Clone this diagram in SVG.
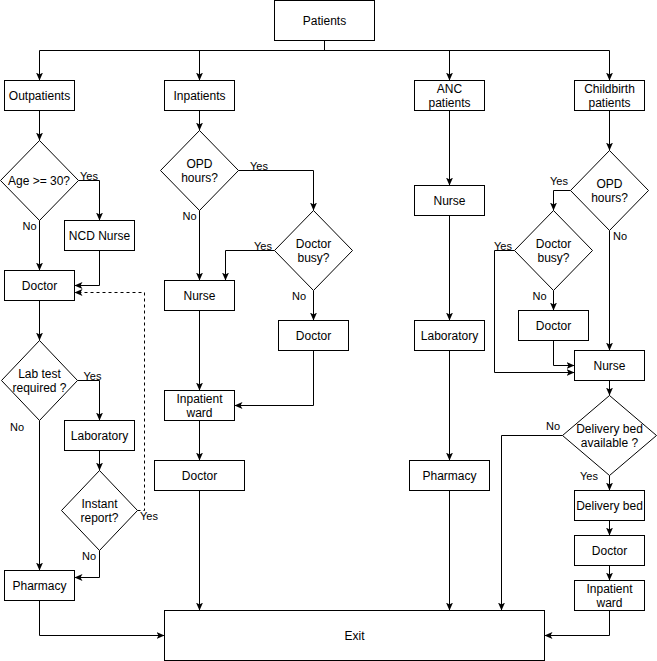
<svg xmlns="http://www.w3.org/2000/svg" width="657" height="661" viewBox="0 0 657 661">
<style>
.n{fill:#fff;stroke:#000;stroke-width:1}
.t{font-family:"Liberation Sans",Arial,sans-serif;font-size:12px;fill:#000;text-anchor:middle}
.l{font-family:"Liberation Sans",Arial,sans-serif;font-size:11px;fill:#000;text-anchor:middle}
.c{fill:none;stroke:#000;stroke-width:1;marker-end:url(#a)}
.d{stroke-dasharray:3 3}
</style>
<defs>
<marker id="a" viewBox="0 0 8 7" refX="8" refY="3.5" markerWidth="8" markerHeight="7" markerUnits="userSpaceOnUse" orient="auto">
<path d="M0,0 L8,3.5 L0,7 L2,3.5 Z" fill="#000"/>
</marker>
</defs>
<rect width="657" height="661" fill="#fff"/>
<g id="connectors">
<path class="c" d="M324.5,40.5 V50.5 H39.5 V80.5"/>
<path class="c" d="M324.5,40.5 V50.5 H199.5 V80.5"/>
<path class="c" d="M324.5,40.5 V50.5 H449.5 V80.5"/>
<path class="c" d="M324.5,40.5 V50.5 H609.5 V80.5"/>
<path class="c" d="M39.5,110.5 V140.5"/>
<path class="c" d="M78.5,180.5 H99.5 V220.5"/>
<path class="c" d="M39.5,220.5 V270.5"/>
<path class="c" d="M99.5,250.5 V285.5 H74.5"/>
<path class="c" d="M39.5,300.5 V340.5"/>
<path class="c" d="M77.5,380.5 H99.5 V420.5"/>
<path class="c" d="M39.5,420.5 V570.5"/>
<path class="c" d="M99.5,450.5 V470.5"/>
<path class="c d" d="M137.5,510.5 H144.5 V292.5 H74.5"/>
<path class="c" d="M99.5,550.5 V577.5 H74.5"/>
<path class="c" d="M39.5,600.5 V635.5 H164.5"/>
<path class="c" d="M199.5,110.5 V130.5"/>
<path class="c" d="M238.5,170.5 H313.5 V210.5"/>
<path class="c" d="M199.5,210.5 V280.5"/>
<path class="c" d="M274.5,250.5 H225.5 V280.5"/>
<path class="c" d="M313.5,290.5 V320.5"/>
<path class="c" d="M313.5,350.5 V405.5 H234.5"/>
<path class="c" d="M199.5,310.5 V390.5"/>
<path class="c" d="M199.5,420.5 V460.5"/>
<path class="c" d="M199.5,490.5 V610.5"/>
<path class="c" d="M449.5,110.5 V185.5"/>
<path class="c" d="M449.5,215.5 V320.5"/>
<path class="c" d="M449.5,350.5 V460.5"/>
<path class="c" d="M449.5,490.5 V610.5"/>
<path class="c" d="M609.5,110.5 V150.5"/>
<path class="c" d="M570.5,190.5 H553.5 V210.5"/>
<path class="c" d="M514.5,250.5 H494.5 V372.5 H574.5"/>
<path class="c" d="M553.5,290.5 V310.5"/>
<path class="c" d="M553.5,340.5 V365.5 H574.5"/>
<path class="c" d="M609.5,230.5 V350.5"/>
<path class="c" d="M609.5,380.5 V395.5"/>
<path class="c" d="M562.5,435.5 H501.5 V610.5"/>
<path class="c" d="M609.5,475.5 V490.5"/>
<path class="c" d="M609.5,520.5 V535.5"/>
<path class="c" d="M609.5,565.5 V580.5"/>
<path class="c" d="M609.5,610.5 V635.5 H544.5"/>
</g>
<g id="edge-labels">
<text class="l" x="89" y="180">Yes</text>
<text class="l" x="29.5" y="229.5">No</text>
<text class="l" x="92.5" y="380">Yes</text>
<text class="l" x="17" y="431">No</text>
<text class="l" x="149" y="520">Yes</text>
<text class="l" x="89" y="560">No</text>
<text class="l" x="259" y="170">Yes</text>
<text class="l" x="189.5" y="219.5">No</text>
<text class="l" x="263" y="250">Yes</text>
<text class="l" x="299" y="300">No</text>
<text class="l" x="559" y="185">Yes</text>
<text class="l" x="503" y="250">Yes</text>
<text class="l" x="539.5" y="300">No</text>
<text class="l" x="620" y="240">No</text>
<text class="l" x="553" y="430">No</text>
<text class="l" x="589" y="480">Yes</text>
</g>
<g id="patients"><rect class="n" x="274.5" y="0.5" width="100" height="40"/><text class="t" x="324.5" y="24.5">Patients</text></g>
<g id="outpatients"><rect class="n" x="4.5" y="80.5" width="70" height="30"/><text class="t" x="39.5" y="99.5">Outpatients</text></g>
<g id="inpatients"><rect class="n" x="164.5" y="80.5" width="70" height="30"/><text class="t" x="199.5" y="99.5">Inpatients</text></g>
<g id="anc"><rect class="n" x="414.5" y="80.5" width="70" height="30"/><text class="t" x="449.5" y="92.5">ANC</text><text class="t" x="449.5" y="106.5">patients</text></g>
<g id="childbirth"><rect class="n" x="574.5" y="80.5" width="70" height="30"/><text class="t" x="609.5" y="92.5">Childbirth</text><text class="t" x="609.5" y="106.5">patients</text></g>
<g id="age"><polygon class="n" points="39.5,140.5 78.5,180.5 39.5,220.5 0.5,180.5"/><text class="t" x="39" y="184.5">Age &gt;= 30?</text></g>
<g id="ncd-nurse"><rect class="n" x="64.5" y="220.5" width="70" height="30"/><text class="t" x="99.5" y="239.5">NCD Nurse</text></g>
<g id="doctor-out"><rect class="n" x="4.5" y="270.5" width="70" height="30"/><text class="t" x="39.5" y="289.5">Doctor</text></g>
<g id="lab-test"><polygon class="n" points="39.5,340.5 77.5,380.5 39.5,420.5 1.5,380.5"/><text class="t" x="39.5" y="377.5">Lab test</text><text class="t" x="39.5" y="391.5">required ?</text></g>
<g id="laboratory-out"><rect class="n" x="64.5" y="420.5" width="70" height="30"/><text class="t" x="99.5" y="439.5">Laboratory</text></g>
<g id="instant"><polygon class="n" points="99.5,470.5 137.5,510.5 99.5,550.5 61.5,510.5"/><text class="t" x="99.5" y="507.5">Instant</text><text class="t" x="99.5" y="521.5">report?</text></g>
<g id="pharmacy-out"><rect class="n" x="4.5" y="570.5" width="70" height="30"/><text class="t" x="39.5" y="589.5">Pharmacy</text></g>
<g id="opd-in"><polygon class="n" points="199.5,130.5 238.5,170.5 199.5,210.5 160.5,170.5"/><text class="t" x="199.5" y="167.5">OPD</text><text class="t" x="199.5" y="181.5">hours?</text></g>
<g id="busy-in"><polygon class="n" points="313.5,210.5 352.5,250.5 313.5,290.5 274.5,250.5"/><text class="t" x="313.5" y="247.5">Doctor</text><text class="t" x="313.5" y="261.5">busy?</text></g>
<g id="nurse-in"><rect class="n" x="164.5" y="280.5" width="70" height="30"/><text class="t" x="199.5" y="299.5">Nurse</text></g>
<g id="doctor-in1"><rect class="n" x="278.5" y="320.5" width="70" height="30"/><text class="t" x="313.5" y="339.5">Doctor</text></g>
<g id="ward-in"><rect class="n" x="164.5" y="390.5" width="70" height="30"/><text class="t" x="199.5" y="402.5">Inpatient</text><text class="t" x="199.5" y="416.5">ward</text></g>
<g id="doctor-in2"><rect class="n" x="154.5" y="460.5" width="90" height="30"/><text class="t" x="199.5" y="479.5">Doctor</text></g>
<g id="nurse-anc"><rect class="n" x="414.5" y="185.5" width="70" height="30"/><text class="t" x="449.5" y="204.5">Nurse</text></g>
<g id="lab-anc"><rect class="n" x="414.5" y="320.5" width="70" height="30"/><text class="t" x="449.5" y="339.5">Laboratory</text></g>
<g id="pharmacy-anc"><rect class="n" x="409.5" y="460.5" width="80" height="30"/><text class="t" x="449.5" y="479.5">Pharmacy</text></g>
<g id="opd-cb"><polygon class="n" points="609.5,150.5 648.5,190.5 609.5,230.5 570.5,190.5"/><text class="t" x="609.5" y="187.5">OPD</text><text class="t" x="609.5" y="201.5">hours?</text></g>
<g id="busy-cb"><polygon class="n" points="553.5,210.5 592.5,250.5 553.5,290.5 514.5,250.5"/><text class="t" x="553.5" y="247.5">Doctor</text><text class="t" x="553.5" y="261.5">busy?</text></g>
<g id="doctor-cb1"><rect class="n" x="518.5" y="310.5" width="70" height="30"/><text class="t" x="553.5" y="329.5">Doctor</text></g>
<g id="nurse-cb"><rect class="n" x="574.5" y="350.5" width="70" height="30"/><text class="t" x="609.5" y="369.5">Nurse</text></g>
<g id="bed-q"><polygon class="n" points="609.5,395.5 656.5,435.5 609.5,475.5 562.5,435.5"/><text class="t" x="609.5" y="432.5">Delivery bed</text><text class="t" x="609.5" y="446.5">available ?</text></g>
<g id="bed"><rect class="n" x="574.5" y="490.5" width="70" height="30"/><text class="t" x="609.5" y="509.5">Delivery bed</text></g>
<g id="doctor-cb2"><rect class="n" x="574.5" y="535.5" width="70" height="30"/><text class="t" x="609.5" y="554.5">Doctor</text></g>
<g id="ward-cb"><rect class="n" x="574.5" y="580.5" width="70" height="30"/><text class="t" x="609.5" y="592.5">Inpatient</text><text class="t" x="609.5" y="606.5">ward</text></g>
<g id="exit"><rect class="n" x="164.5" y="610.5" width="380" height="50"/><text class="t" x="354.5" y="639.5">Exit</text></g>
</svg>
